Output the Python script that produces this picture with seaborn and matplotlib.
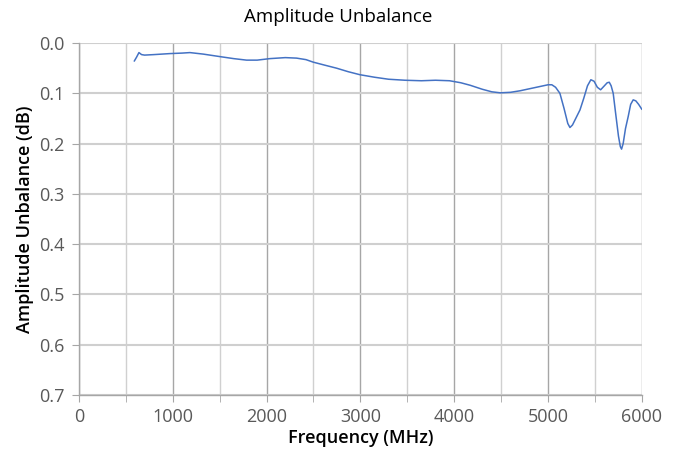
import numpy as np
import pandas as pd
import matplotlib
matplotlib.use("Agg")
import matplotlib.pyplot as plt
import seaborn as sns
from matplotlib.ticker import MultipleLocator

# values
freq_mhz = [590, 615, 640, 668, 700, 800, 970, 1100, 1183, 1325, 1503, 1650, 1787,
            1900, 2035, 2200, 2320, 2420, 2497, 2620, 2746, 2870, 2995, 3150, 3300,
            3475, 3650, 3800, 3950, 4070, 4170, 4300, 4400, 4490, 4600, 4700, 4850,
            4950, 5000, 5040, 5080, 5126, 5170, 5210, 5233, 5260, 5300, 5340, 5380,
            5420, 5456, 5490, 5525, 5560, 5600, 5630, 5652, 5672, 5694, 5720, 5750,
            5770, 5783, 5800, 5825, 5854, 5880, 5907, 5935, 5965, 6000]
unbalance_db = [0.036, 0.028, 0.019, 0.023, 0.024, 0.023, 0.021, 0.020, 0.019, 0.022,
                0.027, 0.031, 0.034, 0.034, 0.031, 0.029, 0.030, 0.033, 0.038, 0.044,
                0.050, 0.057, 0.063, 0.068, 0.072, 0.074, 0.075, 0.074, 0.075, 0.079,
                0.084, 0.092, 0.097, 0.099, 0.098, 0.095, 0.089, 0.085, 0.083, 0.083,
                0.088, 0.100, 0.130, 0.160, 0.168, 0.163, 0.148, 0.133, 0.110, 0.085,
                0.073, 0.076, 0.088, 0.093, 0.085, 0.079, 0.078, 0.085, 0.100, 0.140,
                0.185, 0.206, 0.211, 0.200, 0.170, 0.146, 0.122, 0.113, 0.115, 0.122, 0.132]

df = pd.DataFrame({"freq": freq_mhz, "db": unbalance_db})

sns.set_style("white")
plt.rcParams['font.family'] = ['Open Sans', 'DejaVu Sans']

fig = plt.figure(figsize=(6.8, 4.53), dpi=100)
ax = fig.add_axes([0.116, 0.128, 0.828, 0.777])

sns.lineplot(data=df, x="freq", y="db", ax=ax, color="#4472C4", linewidth=1.1)

ax.set_xlim(0, 6000)
ax.set_ylim(0.7, 0.0)
ax.xaxis.set_major_locator(MultipleLocator(1000))
ax.xaxis.set_minor_locator(MultipleLocator(500))
ax.yaxis.set_major_locator(MultipleLocator(0.1))
ax.yaxis.set_major_formatter(matplotlib.ticker.FormatStrFormatter('%.1f'))

ax.grid(which='major', axis='x', color='#a6a6a6', linewidth=1.0)
ax.grid(which='minor', axis='x', color='#d0d0d0', linewidth=1.0)
ax.grid(which='major', axis='y', color='#cfcfcf', linewidth=1.5)
ax.set_axisbelow(True)

for s in ['top', 'right']:
    ax.spines[s].set_visible(False)
for s in ['left', 'bottom']:
    ax.spines[s].set_color('#a6a6a6')
    ax.spines[s].set_linewidth(1.0)

ax.tick_params(axis='both', which='both', direction='out', length=5, color='#a6a6a6',
               labelcolor='#595959', labelsize=13, bottom=True, left=True)
ax.tick_params(axis='x', which='major', pad=4)
ax.tick_params(axis='y', which='major', pad=5)

fig.suptitle("Amplitude Unbalance", x=0.497, y=0.962, va='center', fontsize=13.5,
             fontweight='medium', color='black')
ax.set_xlabel("Frequency (MHz)", fontsize=13, fontweight='semibold', color='black')
ax.set_ylabel("Amplitude Unbalance (dB)", fontsize=13, fontweight='semibold', color='black')
ax.xaxis.set_label_coords(0.5, -0.122)
ax.yaxis.set_label_coords(-0.096, 0.5)
ax.xaxis.label.set_va('center')
ax.yaxis.label.set_va('center')

fig.savefig("out.png", dpi=100)
